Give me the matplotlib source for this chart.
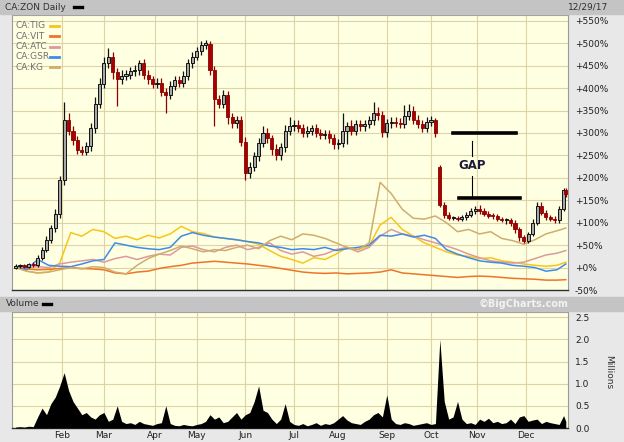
import numpy as np
import pandas as pd
import matplotlib
matplotlib.use("Agg")
import matplotlib.pyplot as plt
from matplotlib.patches import Rectangle
from matplotlib.lines import Line2D

# ---------------- data ----------------
holidays = ['2017-02-20', '2017-04-14', '2017-05-22', '2017-07-03', '2017-08-07',
            '2017-09-04', '2017-10-09', '2017-12-25', '2017-12-26']
dates = pd.bdate_range('2017-01-03', '2017-12-29', freq='C', holidays=holidays)
n_days = len(dates)
month_labels = ['Feb', 'Mar', 'Apr', 'May', 'Jun', 'Jul', 'Aug', 'Sep', 'Oct', 'Nov', 'Dec']

# CA:ZON (% change), sampled every 2 trading days (+ last day)
zon_close = [3, 5, 2, 8, 6, 22, 40, 62, 88, 120,
             195, 330, 305, 285, 262, 258, 270, 310, 365, 410,
             455, 470, 435, 420, 428, 430, 438, 440, 455, 430,
             420, 410, 412, 392, 385, 405, 418, 412, 428, 455,
             470, 482, 497, 498, 440, 375, 365, 385, 335, 322,
             330, 280, 210, 225, 248, 278, 300, 288, 265, 250,
             268, 305, 315, 318, 312, 300, 305, 310, 300, 296,
             298, 288, 275, 278, 305, 315, 305, 320, 315, 320,
             328, 345, 340, 302, 322, 325, 323, 320, 338, 350,
             330, 320, 312, 325, 328, 300,
             140, 118, 110, 110, 108, 112, 118, 125, 130, 125,
             120, 115, 114, 108, 106, 106, 100, 85, 68, 60,
             75, 100, 138, 122, 112, 108, 105, 130, 172, 165]
zon_open_override = {0: 0, 96: 225}
zon_wick_up = [4, 3, 4, 3, 4, 5, 6, 8, 8, 10,
               10, 40, 15, 10, 8, 10, 10, 12, 15, 12,
               15, 20, 10, 10, 12, 10, 10, 12, 8, 10,
               10, 8, 10, 10, 8, 10, 10, 10, 10, 10,
               10, 10, 8, 10, 8, 10, 10, 10, 8, 10,
               8, 8, 10, 10, 10, 10, 15, 10, 8, 10,
               10, 12, 20, 10, 10, 8, 10, 8, 10, 8,
               8, 8, 10, 8, 40, 10, 15, 10, 10, 10,
               10, 25, 12, 10, 10, 10, 10, 10, 25, 15,
               10, 10, 8, 10, 10, 6,
               3, 6, 5, 5, 5, 6, 6, 8, 8, 10,
               8, 6, 6, 6, 5, 5, 5, 5, 5, 5,
               5, 8, 8, 8, 6, 6, 6, 8, 6, 5]
zon_wick_dn = [4, 4, 4, 3, 4, 4, 6, 6, 8, 8,
               10, 10, 10, 12, 8, 8, 8, 10, 10, 10,
               10, 10, 15, 60, 10, 10, 10, 10, 10, 10,
               10, 10, 10, 10, 40, 10, 10, 10, 10, 10,
               10, 8, 8, 10, 10, 60, 10, 10, 15, 10,
               10, 10, 15, 10, 10, 10, 10, 10, 15, 10,
               10, 10, 10, 10, 10, 10, 10, 10, 10, 10,
               10, 10, 10, 10, 10, 30, 10, 10, 10, 10,
               10, 10, 10, 10, 10, 10, 10, 10, 10, 10,
               10, 10, 10, 10, 10, 10,
               5, 8, 5, 5, 5, 5, 5, 5, 5, 5,
               5, 5, 5, 5, 5, 8, 8, 8, 8, 5,
               5, 5, 5, 5, 5, 5, 5, 5, 5, 8]
volume_m = [0.02, 0.03, 0.02, 0.04, 0.03, 0.25, 0.45, 0.30, 0.55, 0.70,
            0.95, 1.25, 0.85, 0.60, 0.45, 0.30, 0.35, 0.25, 0.20, 0.30,
            0.35, 0.15, 0.20, 0.50, 0.15, 0.10, 0.12, 0.08, 0.15, 0.10,
            0.08, 0.06, 0.10, 0.12, 0.50, 0.10, 0.06, 0.05, 0.08, 0.06,
            0.05, 0.08, 0.10, 0.15, 0.30, 0.20, 0.25, 0.12, 0.15, 0.25,
            0.35, 0.20, 0.30, 0.35, 0.60, 0.95, 0.40, 0.35, 0.20, 0.10,
            0.20, 0.55, 0.15, 0.08, 0.06, 0.10, 0.05, 0.08, 0.12, 0.06,
            0.10, 0.08, 0.12, 0.20, 0.28, 0.18, 0.12, 0.10, 0.08, 0.15,
            0.20, 0.30, 0.35, 0.25, 0.75, 0.20, 0.10, 0.08, 0.12, 0.10,
            0.06, 0.08, 0.10, 0.12, 0.08, 0.10,
            2.00, 0.60, 0.20, 0.25, 0.60, 0.20, 0.10, 0.12, 0.08, 0.20,
            0.15, 0.22, 0.12, 0.15, 0.10, 0.12, 0.20, 0.10, 0.25, 0.28,
            0.15, 0.18, 0.20, 0.10, 0.15, 0.12, 0.10, 0.08, 0.28, 0.15]

# comparison symbols (% change), sampled every 5 trading days (+ last day)
tig = [3, -8, -12, -10, 10, 78, 70, 85, 80, 65, 70, 62, 72, 66, 75, 92, 80, 76, 68, 65,
       62, 58, 52, 38, 25, 18, 10, 22, 18, 30, 45, 40, 48, 95, 112, 85, 70, 55, 45, 35,
       28, 25, 20, 22, 15, 12, 8, 5, 3, 5, 12]
vit = [0, -3, -5, -4, -2, 0, -2, -3, -5, -12, -14, -10, -8, -2, 2, 5, 10, 12, 14, 12,
       10, 8, 5, 2, -2, -6, -10, -12, -13, -12, -14, -13, -12, -10, -5, -12, -14, -16, -18, -20,
       -22, -20, -19, -20, -22, -24, -25, -26, -28, -28, -27]
atc = [0, 0, 2, 0, 8, 12, 15, 18, 12, 20, 25, 18, 25, 30, 28, 45, 48, 40, 35, 45,
       50, 40, 45, 55, 38, 30, 35, 25, 30, 40, 45, 35, 45, 70, 85, 75, 70, 62, 55, 48,
       40, 30, 22, 15, 12, 10, 12, 20, 28, 32, 38]
gsr = [0, -5, 18, 5, 3, 2, 8, 15, 18, 55, 50, 45, 42, 40, 45, 70, 78, 72, 68, 65,
       62, 58, 55, 48, 45, 40, 42, 40, 45, 38, 42, 45, 50, 72, 70, 75, 68, 72, 65, 40,
       30, 22, 15, 12, 10, 5, 3, 0, -8, -5, 8]
kg = [0, -8, -12, -10, -5, 0, -3, 2, 0, -10, -14, 5, 20, 30, 38, 48, 42, 35, 40, 38,
      45, 50, 42, 60, 70, 62, 75, 72, 65, 55, 45, 40, 55, 190, 165, 130, 110, 108, 115, 100,
      80, 85, 75, 80, 65, 60, 52, 62, 75, 82, 88]
series_names = ['CA:TIG', 'CA:VIT', 'CA:ATC', 'CA:GSR', 'CA:KG']
series_values = [tig, vit, atc, gsr, kg]
series_colors = ['#f6c51c', '#f07428', '#dc9a9e', '#3d8cec', '#cfad6c']

# GAP annotation levels (% change)
gap_top, gap_bottom = 300, 154

# ---------------- layout ----------------
W, H = 624, 442
def fx(px):
    return px / W
def fy(py):
    return 1 - py / H

fig = plt.figure(figsize=(W / 100, H / 100), dpi=100, facecolor='#e8e8e8')
fig.patches.append(Rectangle((0, fy(14)), 1, 14 / H, transform=fig.transFigure,
                             color='#c4c4c4', zorder=0))
fig.patches.append(Rectangle((0, fy(311)), 1, 14 / H, transform=fig.transFigure,
                             color='#c4c4c4', zorder=0))

ax = fig.add_axes([fx(12), fy(290), fx(556), 275 / H])
axv = fig.add_axes([fx(12), fy(428), fx(556), 116 / H])

idx_c = np.r_[np.arange(0, n_days, 2), n_days - 1]
idx_l = np.r_[np.arange(0, n_days, 5), n_days - 1]
month_pos = [int(np.argmax(dates.month == m)) for m in range(2, 13)]

xlim = (-1.6, n_days)
bg = '#ffffe2'
gridc = '#dcd4a4'
for a in (ax, axv):
    a.set_facecolor(bg)
    a.set_xlim(*xlim)
    a.set_xticks(month_pos)
    a.grid(True, color=gridc, lw=0.8)
    a.set_axisbelow(True)
    a.yaxis.tick_right()
    a.tick_params(axis='both', length=0, labelsize=6.5, labelcolor='#202020')
    for s in a.spines.values():
        s.set_color('#9a9a9a')
        s.set_linewidth(0.8)
    a.spines['bottom'].set_color('#303030')
    a.spines['bottom'].set_linewidth(1.0)

# main price panel
ax.set_ylim(-48, 563)
ax.set_yticks(range(-50, 551, 50))
ax.set_yticklabels([f'+{v}%' if v >= 0 else f'{v}%' for v in range(-50, 551, 50)])
ax.tick_params(axis='y', pad=5)
ax.tick_params(axis='x', labelbottom=False)

for vals, col in zip(series_values, series_colors):
    ax.plot(idx_l, vals, color=col, lw=1.1, zorder=2)

close = np.array(zon_close, dtype=float)
opn = np.r_[close[0], close[:-1]]
for k, v in zon_open_override.items():
    opn[k] = v
high = np.maximum(opn, close) + np.array(zon_wick_up)
low = np.minimum(opn, close) - np.array(zon_wick_dn)
up = close >= opn
wick_cols = np.where(up, '#111111', '#8c0000')
ax.vlines(idx_c, low, high, colors=wick_cols, lw=0.9, zorder=3)
body_b = np.minimum(opn, close)
body_h = np.maximum(np.abs(close - opn), 2.5)
ax.bar(idx_c[up], body_h[up], bottom=body_b[up], width=1.4,
       color='#a8a8a8', edgecolor='#111111', lw=0.7, zorder=4)
ax.bar(idx_c[~up], body_h[~up], bottom=body_b[~up], width=1.4,
       color='#a80000', edgecolor='#8c0000', lw=0.6, zorder=4)

# GAP annotation
gx0, gx1, gmid = 198, 226.5, 206.5
ax.plot([gx0, gx1], [gap_top, gap_top], color='black', lw=2.6, zorder=5)
ax.plot([gx0 + 2.5, gx1 + 2], [gap_bottom, gap_bottom], color='black', lw=2.6, zorder=5)
ax.plot([gmid, gmid], [282, 248], color='black', lw=0.8, zorder=5)
ax.plot([gmid, gmid], [205, gap_bottom], color='black', lw=0.8, zorder=5)
ax.text(gmid, 228, 'GAP', ha='center', va='center', fontsize=8.5,
        fontweight='bold', color='#1c1c3c', zorder=6)

# legend
for i, (nm, col) in enumerate(zip(series_names, series_colors)):
    yy = 26 + 10.3 * i
    fig.text(fx(16), fy(yy), nm, ha='left', va='center', fontsize=6.5, color='#707070')
    fig.add_artist(Line2D([fx(50), fx(59)], [fy(yy), fy(yy)], color=col, lw=2.0))

# volume panel
axv.fill_between(idx_c, volume_m, 0, color='black', lw=0, zorder=3)
axv.set_ylim(0, 2.62)
axv.set_yticks([0, 0.5, 1.0, 1.5, 2.0, 2.5])
axv.set_yticklabels(['0.0', '0.5', '1.0', '1.5', '2.0', '2.5'])
axv.tick_params(axis='y', pad=5)
axv.set_xticklabels(month_labels)
axv.tick_params(axis='x', pad=2)

# header texts
fig.text(fx(5), fy(7), 'CA:ZON Daily', ha='left', va='center', fontsize=6.5, color='#303030')
fig.add_artist(Line2D([fx(74), fx(82)], [fy(6.5), fy(6.5)], color='black', lw=2.4))
fig.text(fx(608), fy(7), '12/29/17', ha='right', va='center', fontsize=6.5, color='#303030')
fig.text(fx(6), fy(304), 'Volume', ha='left', va='center', fontsize=6.5, color='#303030')
fig.add_artist(Line2D([fx(43), fx(51)], [fy(304), fy(304)], color='black', lw=2.4))
fig.text(fx(569), fy(304), '\u00a9BigCharts.com', ha='right', va='center', fontsize=7,
         color='#f2f2f2', fontweight='bold')
fig.text(fx(609), fy(372), 'Millions', ha='center', va='center', rotation=270,
         fontsize=6.5, color='#303030')

fig.savefig('out.png', dpi=100, facecolor=fig.get_facecolor())
